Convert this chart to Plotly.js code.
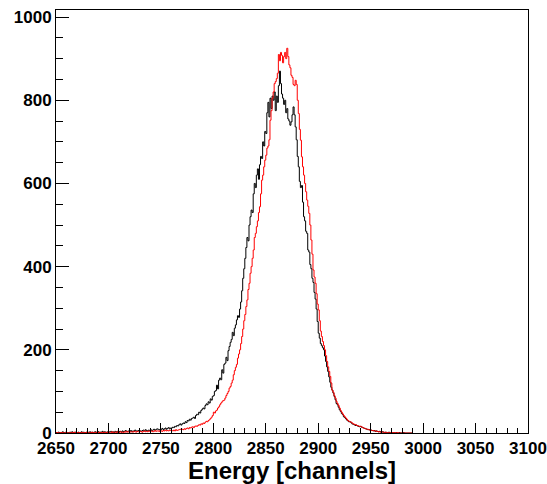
<!DOCTYPE html>
<html>
<head>
<meta charset="utf-8">
<script src="https://cdn.plot.ly/plotly-3.0.1.min.js"></script>
<style>html,body{margin:0;padding:0;background:#fff;}#chart{width:547px;height:484px;}</style>
</head>
<body>
<div id="chart"></div>
<script>
// Histogram bins: one channel per bin, starting at channel 2650
const firstChannel = 2650;
const binWidth = 1;

// Black spectrum (counts per channel, 2650 ... 2989)
const blackCounts = [
  1,0,2,1,0,1,3,0,1,2,
  0,1,1,2,0,3,1,0,2,1,
  1,2,0,1,3,1,2,0,1,2,
  2,1,3,0,2,1,2,3,1,2,
  3,1,2,2,4,1,3,2,1,3,
  2,3,4,2,3,1,4,3,2,5,
  3,4,2,5,3,4,6,3,4,5,
  4,6,3,5,4,7,5,4,6,5,
  5,4,6,7,5,8,6,5,7,6,
  8,6,7,9,7,8,10,9,8,7,
  9,11,8,10,12,9,11,13,10,12,
  12,14,13,16,15,18,17,20,22,19,
  22,24,23,27,25,30,29,33,31,35,
  36,38,35,42,45,44,50,48,54,57,
  60,58,66,70,68,75,72,82,79,88,
  90,100,102,115,106,127,132,128,152,144,
  165,168,182,174,198,208,218,225,242,234,
  252,260,272,282,278,298,315,342,372,395,
  420,446,470,462,500,520,536,530,575,600,
  590,620,635,610,645,665,660,700,690,725,
  720,770,795,760,805,780,810,800,820,775,
  810,795,835,870,840,815,805,790,800,770,
  780,755,750,740,748,765,784,765,736,705,
  665,640,605,590,595,555,520,510,485,480,
  440,435,405,395,372,362,338,322,298,268,
  240,228,215,210,205,200,185,172,159,148,
  135,122,110,103,96,88,80,71,68,62,
  56,52,47,44,39,37,34,31,29,27,
  27,25,22,21,20,18,19,17,16,15,
  16,14,13,12,11,10,9,8,8,7,
  7,6,5,6,4,5,4,3,4,3,
  2,3,2,1,2,1,1,2,0,1,
  1,0,1,0,1,0,0,1,0,0,
  0,1,0,0,0,0,0,0,0,0
];

// Red spectrum (counts per channel, 2650 ... 2989)
const redCounts = [
  0,1,0,0,1,0,1,0,0,1,
  1,0,0,1,0,1,0,2,0,0,
  1,0,1,0,1,1,0,1,0,2,
  0,1,1,0,2,1,0,1,2,1,
  1,2,0,1,1,2,1,0,2,1,
  2,1,1,3,1,2,2,1,3,2,
  1,3,2,2,1,3,2,4,2,3,
  2,3,3,2,4,3,2,4,3,3,
  4,3,2,4,5,3,4,3,5,4,
  4,5,3,4,6,4,5,5,4,6,
  5,4,6,5,7,5,6,5,7,6,
  6,5,7,5,8,6,7,8,9,8,
  9,8,10,9,11,12,10,13,12,14,
  15,13,16,17,16,18,20,19,22,21,
  24,23,26,28,27,30,32,35,38,42,
  50,48,53,55,60,63,68,72,75,78,
  79,84,90,95,100,108,112,120,127,140,
  150,158,165,180,190,200,215,232,250,270,
  285,304,320,345,360,384,400,420,440,470,
  480,496,510,530,544,575,608,620,640,656,
  668,685,690,705,752,775,805,820,840,845,
  852,865,910,895,915,908,890,905,915,900,
  925,905,885,878,860,855,838,835,848,838,
  800,768,730,704,664,640,620,600,580,560,
  545,528,500,464,430,392,375,360,335,310,
  296,270,245,232,220,210,200,186,172,159,
  148,136,120,103,98,90,84,76,71,66,
  60,54,50,46,42,39,36,33,30,28,
  27,26,24,22,21,20,19,18,17,16,
  16,15,13,12,11,10,9,9,8,7,
  7,6,6,5,5,4,4,3,3,2,
  3,2,2,1,2,1,1,1,0,1,
  1,0,1,0,0,1,0,0,0,0,
  0,0,0,0,0,0,0,0,0,0
];

const xTitle = 'Energy [channels]';

function stepTrace(counts, color) {
  const x = [], y = [];
  for (let i = 0; i < counts.length; i++) {
    x.push(firstChannel + i * binWidth);
    y.push(counts[i]);
  }
  x.push(firstChannel + counts.length * binWidth);
  y.push(counts[counts.length - 1]);
  return {
    type: 'scatter', mode: 'lines', x: x, y: y,
    line: {shape: 'hv', color: color, width: 1},
    hoverinfo: 'skip', showlegend: false
  };
}

const tickFont = {family: 'Liberation Sans, Arial, sans-serif', size: 17, color: '#000', weight: 'bold'};

const layout = {
  width: 547, height: 484,
  paper_bgcolor: '#fff', plot_bgcolor: '#fff',
  margin: {l: 56, r: 19, t: 10, b: 51},
  showlegend: false,
  xaxis: {
    range: [2650, 3100], tick0: 2650, dtick: 50,
    ticks: 'inside', ticklen: 10, tickwidth: 1, tickcolor: '#000',
    minor: {dtick: 10, ticks: 'inside', ticklen: 5, tickcolor: '#000', tickwidth: 1, showgrid: false},
    showline: true, mirror: true, linecolor: '#000', linewidth: 1,
    showgrid: false, zeroline: false,
    ticklabeloverflow: 'allow',
    tickfont: tickFont,
    title: {text: xTitle, font: {family: 'Liberation Sans, Arial, sans-serif', size: 24, color: '#000', weight: 'bold'}}
  },
  yaxis: {
    range: [0, 1017], tick0: 0, dtick: 200,
    ticks: 'inside', ticklen: 13, tickwidth: 1, tickcolor: '#000',
    minor: {dtick: 50, ticks: 'inside', ticklen: 7, tickcolor: '#000', tickwidth: 1, showgrid: false},
    showline: true, mirror: true, linecolor: '#000', linewidth: 1,
    showgrid: false, zeroline: false,
    ticklabeloverflow: 'allow',
    tickfont: tickFont
  }
};

Plotly.newPlot('chart', [stepTrace(blackCounts, '#000000'), stepTrace(redCounts, '#ff0000')], layout, {displayModeBar: false, staticPlot: true});
</script>
</body>
</html>
